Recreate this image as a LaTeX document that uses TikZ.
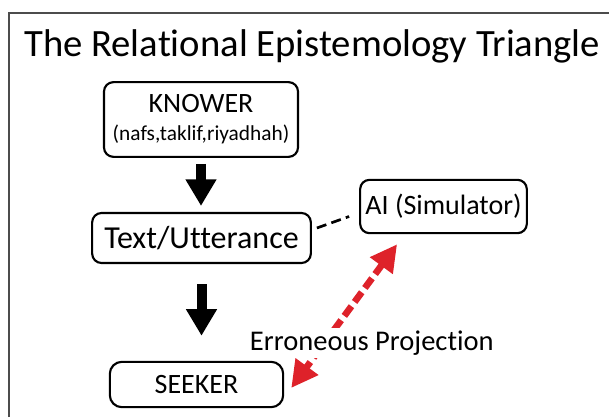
\documentclass[tikz,border=0pt]{standalone}
\usepackage{fontspec}
\setmainfont{Carlito}[Ligatures=NoCommon]
\usetikzlibrary{arrows.meta}
\definecolor{projred}{RGB}{222,34,42}

\begin{document}
\begin{tikzpicture}[x=0.75pt,y=-0.75pt,
  box/.style={draw,line width=1.6pt,rounded corners=7pt,inner sep=0pt,align=center,font=\fontsize{21}{24}\selectfont},
  flow/.style={line width=7.5pt,-{Triangle[length=20pt,width=22pt]}},
  link/.style={line width=2pt,dash pattern=on 7.5pt off 4pt},
  proj/.style={projred,line width=5pt,dash pattern=on 9pt off 4pt,{Triangle[length=20pt,width=20pt]}-{Triangle[length=20pt,width=20pt]}}]
\useasboundingbox (0,0) rectangle (609,417);
\draw[line width=1.5pt,black!70] (9,417) -- (9,13) -- (609,13);
\node[anchor=base west,inner sep=0pt,font=\fontsize{29}{34}\selectfont] (title) at (24,57) {The Relational Epistemology Triangle};

\node[box,minimum width=145.5pt,minimum height=56pt] (knower) at (201,119.5) {KNOWER\\[-3pt]{\fontsize{16}{18}\selectfont(nafs,taklif,riyadhah)}};
\node[box,minimum width=164pt,minimum height=37.5pt,font=\fontsize{24}{27}\selectfont] (text) at (201.5,238) {Text/Utterance};
\node[box,minimum width=125pt,minimum height=40pt] (ai) at (443.5,206.5) {AI (Simulator)};
\node[box,rounded corners=9pt,minimum width=130pt,minimum height=34pt] (seeker) at (196.5,384.5) {SEEKER};

\draw[flow] ([shift={(0,6)}]knower.south) -- ([shift={(0,-6)}]knower.south |- text.north);
\draw[flow] ([shift={(0,20)}]text.south) -- ([shift={(0,-25)}]text.south |- seeker.north);
\draw[link] ([shift={(5,-10)}]text.east) -- ([shift={(-10,10)}]ai.west);
\draw[proj] ([shift={(38,10)}]ai.south west) -- ([shift={(7,3.5)}]seeker.east);
\node[fill=white,inner sep=2pt,anchor=base west,font=\fontsize{21.4}{24}\selectfont] (errlabel) at (247,350) {Erroneous Projection};
\end{tikzpicture}
\end{document}
